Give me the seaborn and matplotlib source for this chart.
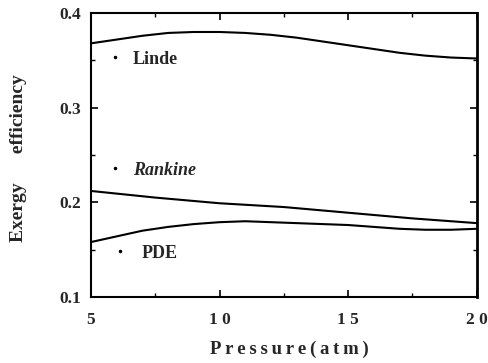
import matplotlib
matplotlib.use("Agg")
import matplotlib.pyplot as plt
import seaborn as sns
import pandas as pd
from matplotlib.ticker import MultipleLocator

# Data
pressure_linde = [5, 6, 7, 8, 9, 10, 11, 12, 13, 14, 15, 16, 17, 18, 19, 20]
linde = [0.368, 0.372, 0.376, 0.379, 0.380, 0.380, 0.379, 0.377, 0.374, 0.370, 0.366, 0.362, 0.358, 0.355, 0.353, 0.352]

pressure_rankine = [5, 7.5, 10, 12.5, 15, 17.5, 20]
rankine = [0.212, 0.205, 0.199, 0.195, 0.189, 0.183, 0.178]

pressure_pde = [5, 6, 7, 8, 9, 10, 11, 12, 13, 14, 15, 16, 17, 18, 19, 20]
pde = [0.158, 0.164, 0.170, 0.174, 0.177, 0.179, 0.180, 0.179, 0.178, 0.177, 0.176, 0.174, 0.172, 0.171, 0.171, 0.172]

labels = ["Linde", "Rankine", "PDE"]
label_pos = [(6.63, 0.3514), (6.63, 0.234), (6.98, 0.1454)]
dot_pos = [(5.93, 0.3535), (5.93, 0.2363), (6.12, 0.1486)]

x_ticks = [5, 10, 15, 20]
x_tick_labels = ["5", "1 0", "1 5", "2 0"]
y_ticks = [0.1, 0.2, 0.3, 0.4]
y_tick_labels = ["0.1", "0.2", "0.3", "0.4"]

df = pd.concat([
    pd.DataFrame({"p": pressure_linde, "e": linde, "s": "Linde"}),
    pd.DataFrame({"p": pressure_rankine, "e": rankine, "s": "Rankine"}),
    pd.DataFrame({"p": pressure_pde, "e": pde, "s": "PDE"}),
])

sns.set_style("ticks")
plt.rcParams["font.family"] = ["Liberation Serif", "DejaVu Serif"]

fig = plt.figure(figsize=(4.89, 3.63), dpi=100)
ax = fig.add_axes([0.186, 0.182, 0.789, 0.782])

sns.lineplot(data=df, x="p", y="e", units="s", estimator=None, color="black",
             linewidth=1.5, ax=ax, legend=False)

for (lx, ly), (dx, dy), lab in zip(label_pos, dot_pos, labels):
    ax.text(lx, ly, lab, fontsize=13, fontweight="bold", va="center", ha="left",
            fontstyle="italic" if lab == "Rankine" else "normal")
    ax.plot([dx], [dy], marker="o", markersize=1.5, color="black")

ax.set_xlim(5, 20)
ax.set_ylim(0.1, 0.4)
ax.set_xticks(x_ticks)
ax.set_xticklabels(x_tick_labels, fontsize=12.5, fontweight="bold")
ax.set_yticks(y_ticks)
ax.set_yticklabels(y_tick_labels, fontsize=12.5, fontweight="bold")
ax.xaxis.set_minor_locator(MultipleLocator(2.5))
ax.yaxis.set_minor_locator(MultipleLocator(0.05))
ax.tick_params(which="both", direction="in", top=True, right=True, color="black")
ax.tick_params(which="major", length=5, width=1.2)
ax.tick_params(axis="x", which="major", pad=11)
ax.tick_params(axis="y", which="major", pad=7)
ax.tick_params(which="minor", length=3, width=1.0)
for sp in ax.spines.values():
    sp.set_linewidth(1.5)
    sp.set_color("black")
ax.spines["right"].set_linewidth(2.0)

ax.set_xlabel("P\u2009r\u2009e\u2009s\u2009s\u2009u\u2009r\u2009e\u2009(\u2009a\u2009t\u2009m\u2009)",
              fontsize=13.5, fontweight="bold")
ax.xaxis.set_label_coords(0.515, -0.155)
ax.set_ylabel("Exergy      efficiency", fontsize=14, fontweight="bold")
ax.yaxis.set_label_coords(-0.165, 0.49)

fig.savefig("out.png", dpi=100)
